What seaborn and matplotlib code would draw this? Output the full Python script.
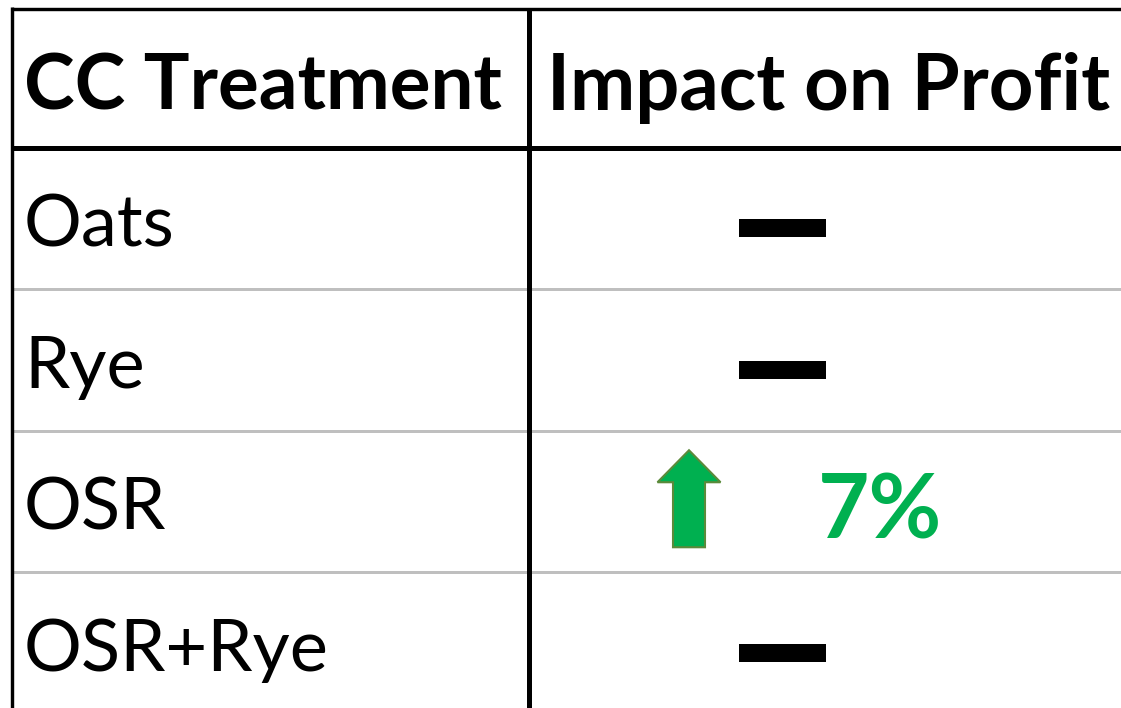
import matplotlib
matplotlib.use("Agg")
import matplotlib.pyplot as plt
import seaborn as sns
import pandas as pd
from matplotlib.path import Path
from matplotlib.patches import Polygon

# table content
headers = ["CC Treatment", "Impact on Profit"]
treatments = ["Oats", "Rye", "OSR", "OSR+Rye"]
profit_change = [0, 0, 7, 0]   # % change, 0 = no change (dash)

sns.set_theme(style="white")
plt.rcParams['font.family'] = ['Lato', 'DejaVu Sans']
plt.rcParams['text.color'] = 'black'

W, H = 1121, 708
fig = plt.figure(figsize=(W / 100, H / 100), dpi=100)
ax = fig.add_axes([0, 0, 1, 1])
ax.set_xlim(0, W)
ax.set_ylim(H, 0)
ax.axis("off")

px = 0.72  # pixel -> points

# layout (pixels)
left_x, top_y = 11.7, 9
div_x = 529
head_bot = 147.5
row_h = 141.5
text_x = 24
col2_text_x = 547
col2_c = 782

# grid lines
for k in range(1, len(treatments)):
    y = head_bot + k * row_h
    ax.plot([left_x, W], [y, y], color="#BFBFBF", lw=3 * px, solid_capstyle="butt")
ax.plot([left_x, W], [top_y, top_y], color="black", lw=3.4 * px, solid_capstyle="butt")
ax.plot([left_x, W], [head_bot, head_bot], color="black", lw=5 * px, solid_capstyle="butt")
ax.plot([left_x, left_x], [top_y - 1.7, H], color="black", lw=3.4 * px, solid_capstyle="butt")
ax.plot([div_x, div_x], [top_y, H], color="black", lw=5 * px, solid_capstyle="butt")

# headers
ax.text(text_x, 110, headers[0], fontsize=55, fontweight="bold", va="baseline", ha="left",
        color="black")
ax.text(col2_text_x, 110, headers[1], fontsize=56, fontweight="bold", va="baseline", ha="left",
        color="black")

centers = [head_bot + (i + 0.5) * row_h for i in range(len(treatments))]
for name, yc in zip(treatments, centers):
    ax.text(text_x, yc + 28, name, fontsize=52, va="baseline", ha="left", color="black")

# dashes for no change
df = pd.DataFrame({"treatment": treatments, "change": profit_change, "y": centers})
flat = df[df["change"] == 0].copy()
flat["x"] = col2_c
dash = Path([(-0.5, -0.1034), (0.5, -0.1034), (0.5, 0.1034), (-0.5, 0.1034), (-0.5, -0.1034)],
            [Path.MOVETO, Path.LINETO, Path.LINETO, Path.LINETO, Path.CLOSEPOLY])
sns.scatterplot(data=flat, x="x", y=flat["y"] + 10, marker=dash, s=(87 * px) ** 2,
                color="black", linewidth=0, ax=ax, legend=False)

# arrows + percent for increases
for _, r in df[df["change"] > 0].iterrows():
    ax_c, yc = col2_c - 93, r["y"]
    verts = [(ax_c, yc - 51), (ax_c + 31.5, yc - 19), (ax_c + 16, yc - 19), (ax_c + 16, yc + 46),
             (ax_c - 16, yc + 46), (ax_c - 16, yc - 19), (ax_c - 31.5, yc - 19)]
    ax.add_patch(Polygon(verts, closed=True, facecolor="#00B050", edgecolor="#5B8A3A", lw=1.5))
    ax.text(col2_c + 98, yc + 37, f"{r['change']}%", fontsize=64, fontweight="bold",
            color="#00B050", va="baseline", ha="center")

ax.set_xlabel("")
ax.set_ylabel("")
fig.savefig("out.png", dpi=100, facecolor="white")
